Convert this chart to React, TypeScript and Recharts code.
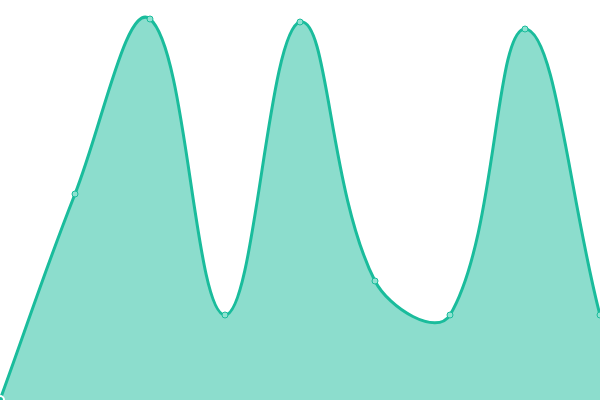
import { AreaChart, Area, XAxis, YAxis } from "recharts";

const labels = ["A", "B", "C", "D", "E", "F", "G", "H", "I"];
const values = [0, 206, 381, 85, 378, 119, 85, 371, 85];

const data = labels.map((name, i) => ({ name, value: values[i] }));

const W = 600;
const H = 400;
const TENSION = 0.4;

// spline like the original (tension + control points kept inside the plot)
function splineCurve(context: any) {
  let pts: [number, number][] = [];
  let line = NaN;
  const cap = (v: number, min: number, max: number) => Math.max(Math.min(v, max), min);
  return {
    areaStart() {
      line = 0;
    },
    areaEnd() {
      line = NaN;
    },
    lineStart() {
      pts = [];
    },
    point(x: number, y: number) {
      pts.push([+x, +y]);
    },
    lineEnd() {
      const n = pts.length;
      if (n) {
        const cps = pts.map((p, i) => {
          const prev = pts[i - 1] || p;
          const next = pts[i + 1] || p;
          const d01 = Math.hypot(p[0] - prev[0], p[1] - prev[1]);
          const d12 = Math.hypot(next[0] - p[0], next[1] - p[1]);
          let s01 = d01 / (d01 + d12);
          let s12 = d12 / (d01 + d12);
          s01 = isNaN(s01) ? 0 : s01;
          s12 = isNaN(s12) ? 0 : s12;
          const fa = TENSION * s01;
          const fb = TENSION * s12;
          return {
            px: cap(p[0] - fa * (next[0] - prev[0]), 0, W),
            py: cap(p[1] - fa * (next[1] - prev[1]), 0, H),
            nx: cap(p[0] + fb * (next[0] - prev[0]), 0, W),
            ny: cap(p[1] + fb * (next[1] - prev[1]), 0, H),
          };
        });
        if (line) context.lineTo(pts[0][0], pts[0][1]);
        else context.moveTo(pts[0][0], pts[0][1]);
        for (let i = 1; i < n; i++) {
          context.bezierCurveTo(cps[i - 1].nx, cps[i - 1].ny, cps[i].px, cps[i].py, pts[i][0], pts[i][1]);
        }
      }
      if (line || (line !== 0 && n === 1)) context.closePath();
      line = 1 - line;
    },
  };
}

export default function App() {
  return (
    <div style={{ position: "absolute", left: 0, top: 0, width: W, height: H, background: "#fff" }}>
      <AreaChart width={W} height={H} data={data} margin={{ top: 0, right: 0, bottom: 0, left: 0 }}>
        <XAxis dataKey="name" hide />
        <YAxis hide domain={[0, 400]} />
        <Area
          type={splineCurve as any}
          dataKey="value"
          stroke="#1abc9c"
          strokeWidth={3}
          fill="#1abc9c"
          fillOpacity={0.5}
          dot={{ r: 3, fill: "#8fe2d1", stroke: "#1abc9c", strokeWidth: 1, fillOpacity: 1 }}
          isAnimationActive={false}
        />
      </AreaChart>
    </div>
  );
}
